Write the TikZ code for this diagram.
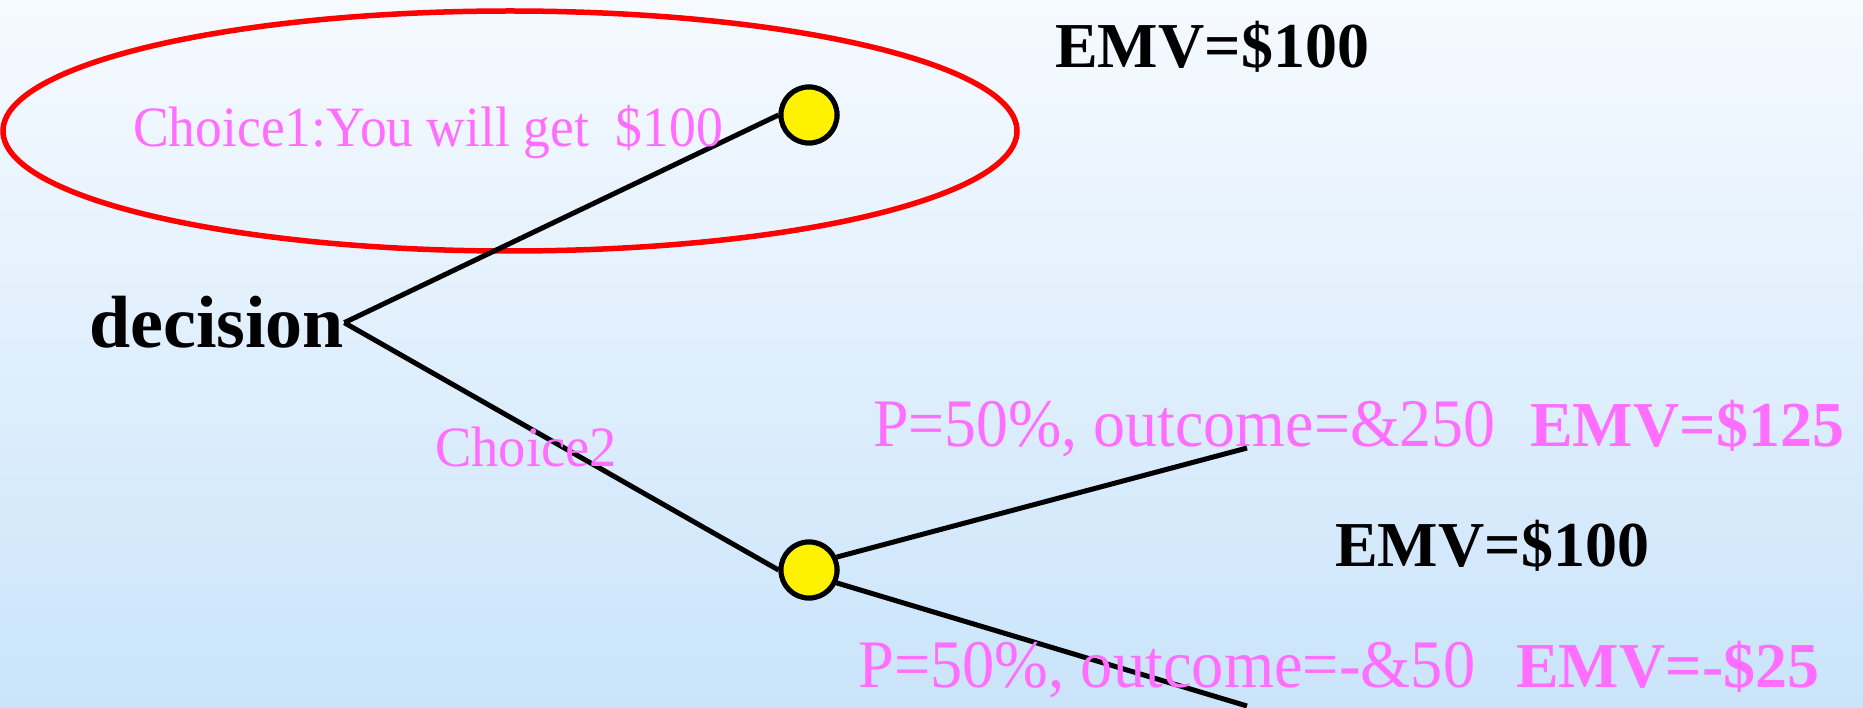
\documentclass[tikz,border=0pt]{standalone}
\usepackage{graphicx}
\usepackage{fontspec}
\setmainfont{Liberation Serif}
\definecolor{pinktxt}{RGB}{255,110,255}
\definecolor{bgtop}{RGB}{246,250,255}
\definecolor{bgbot}{RGB}{202,228,250}
\begin{document}
\begin{tikzpicture}[x=1pt,y=-1pt,
  chance/.style={circle,draw=black,fill=yellow,line width=5pt,minimum size=56pt,inner sep=0pt},
  branch/.style={line width=5pt,black},
  lbl/.style={inner sep=0pt,anchor=base west,text=pinktxt,font=\fontsize{57}{60}\selectfont},
  plbl/.style={lbl,font=\fontsize{68}{72}\selectfont},
  emv/.style={inner sep=0pt,anchor=base west,font=\fontsize{64}{70}\selectfont\bfseries},
  decstyle/.style={inner sep=0pt,anchor=base west,font=\fontsize{74}{80}\selectfont\bfseries},
]
\fill[top color=bgtop,bottom color=bgbot] (0,0) rectangle (1863,708);
\useasboundingbox (0,0) rectangle (1863,708);
\draw[red,line width=5.5pt] (510,131) ellipse [x radius=507, y radius=120];

\node[decstyle] (decision) at (89,348) {decision};
\node[chance] (n1) at (809,115) {};
\node[chance] (n2) at (809,570) {};
\coordinate (end1) at (1247,448);
\coordinate (end2) at (1247,706);

\draw[branch] (decision.east) -- (n1.west);
\draw[branch] (decision.east) -- (n2.west);
\draw[branch] (n2.25) -- (end1);
\draw[branch] (n2.-25) -- (end2);
\node[chance] at (n1) {};
\node[chance] at (n2) {};

\node[lbl] (c1) at (133,147) {\scalebox{0.94}[1]{Choice1:You will get\ \ \$100}};
\node[lbl] (c2) at (435,466) {\scalebox{0.957}[1]{Choice2}};
\node[plbl] (p1) at (873,446) {\scalebox{0.94}[1]{P=50\%, outcome=\&250}};
\node[plbl] (p2) at (858,687) {\scalebox{0.948}[1]{P=50\%, outcome=-\&50}};
\node[emv] (e0) at (1055,68) {EMV=\$100};
\node[emv] (e1) at (1335,566) {EMV=\$100};
\node[emv,text=pinktxt] (e2) at (1530,446) {EMV=\$125};
\node[emv,text=pinktxt] (e3) at (1516,687) {EMV=-\$25};
\end{tikzpicture}
\end{document}
